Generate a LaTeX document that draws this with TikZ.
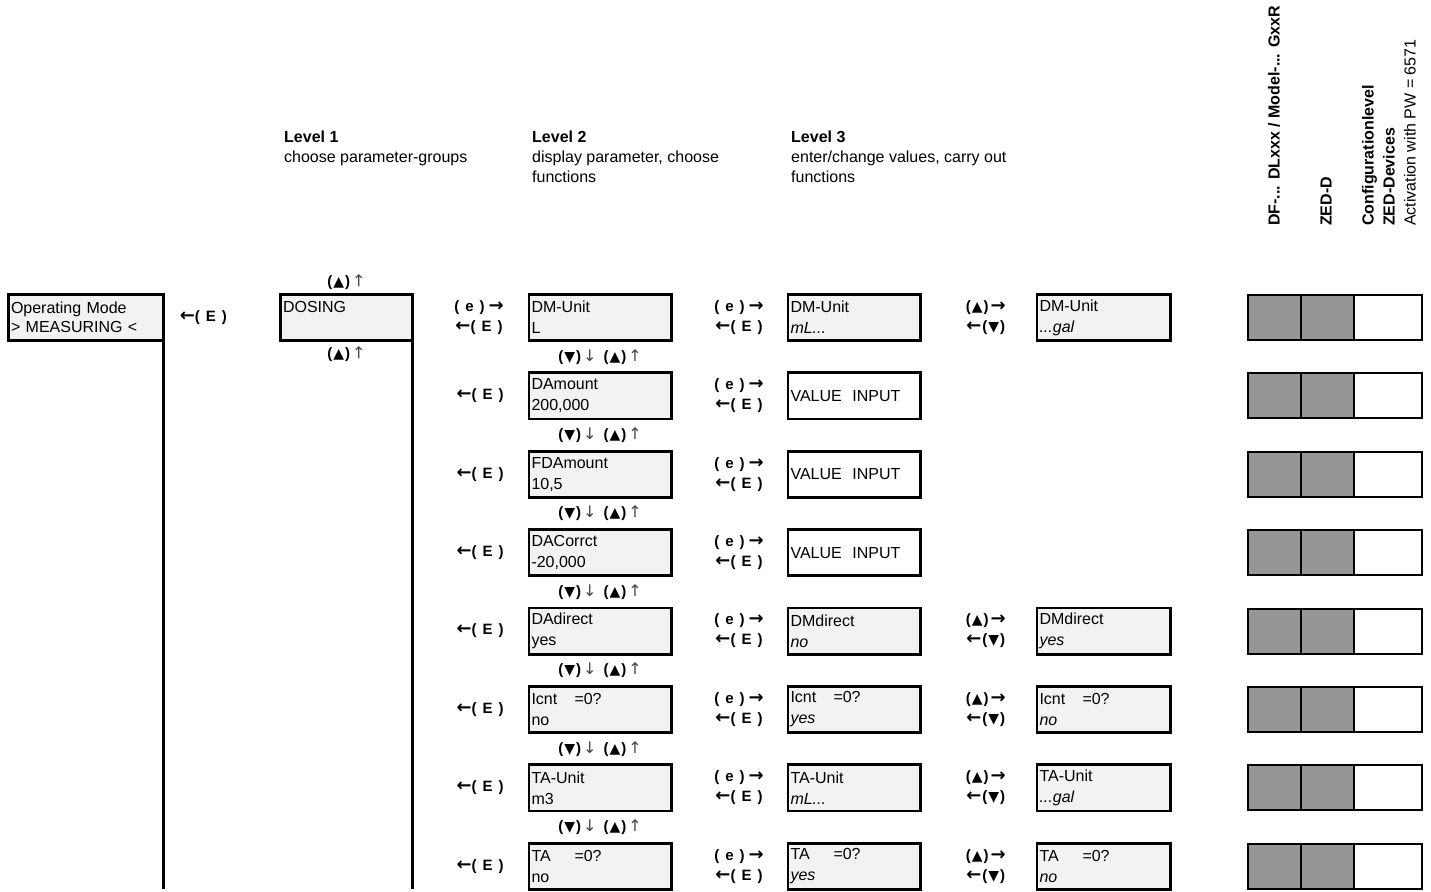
\documentclass[tikz,border=0pt]{standalone}
\usepackage{fontspec}
\setmainfont{Liberation Sans}
\newfontfamily\symfont{DejaVu Sans}
\usetikzlibrary{positioning, calc}
\definecolor{lcdgrey}{HTML}{F2F2F2}
\definecolor{flaggrey}{HTML}{969696}
\definecolor{thinarrow}{HTML}{444444}
\tikzset{
  lcdbox/.style={rectangle, draw=black, fill=lcdgrey, line width=2.8pt, outer sep=0pt,
                 minimum height=46.2pt, inner xsep=2.6pt, inner ysep=2pt,
                 align=left, font=\fontsize{16}{21}\selectfont},
  grpbox/.style={lcdbox, text width=127pt},
  partwo/.style={lcdbox, text width=137pt},
  parthree/.style={lcdbox, text width=127pt},
  parfour/.style={lcdbox, text width=128pt},
  valbox/.style={parthree, fill=white},
  frame/.style={line width=2.8pt, draw=black},
  keylab/.style={font=\fontsize{15}{20}\selectfont\bfseries, inner sep=0pt, align=center},
  headlab/.style={font=\fontsize{16}{20}\selectfont, inner sep=0pt, align=left, anchor=north west},
  sidelab/.style={font=\fontsize{16}{21}\selectfont, inner sep=0pt, align=left, rotate=90, anchor=west},
  flagbar/.style={rectangle, draw=black, line width=2pt, outer sep=0pt, inner sep=0pt,
                  minimum width=174pt, minimum height=45pt,
                  path picture={
                    \fill[flaggrey] (path picture bounding box.south west)
                      rectangle ([xshift=106pt]path picture bounding box.north west);
                    \draw[line width=2pt] ([xshift=53pt]path picture bounding box.south west)
                      -- ([xshift=53pt]path picture bounding box.north west);
                    \draw[line width=2pt] ([xshift=106pt]path picture bounding box.south west)
                      -- ([xshift=106pt]path picture bounding box.north west);
                  }},
}
\newcommand{\upkey}{(\hspace{1pt}{\symfont\fontsize{14}{14}\selectfont ▲}\hspace{1pt})}
\newcommand{\downkey}{(\hspace{1pt}{\symfont\fontsize{14}{14}\selectfont ▼}\hspace{1pt})}
\newcommand{\letterkey}[1]{(\hspace{6pt}#1\hspace{6pt})}
\newcommand{\toright}{{\symfont\bfseries\fontsize{18}{18}\selectfont →}}
\newcommand{\toleft}{{\symfont\bfseries\fontsize{18}{18}\selectfont ←}}
\newcommand{\thinup}{{\symfont\mdseries\fontsize{16}{16}\selectfont\color{thinarrow}↑}}
\newcommand{\thindown}{{\symfont\mdseries\fontsize{16}{16}\selectfont\color{thinarrow}↓}}
\newcommand{\stepkeys}{\downkey\hspace{2pt}\thindown\hspace{7pt}\upkey\hspace{2pt}\thinup}
\newcommand{\enterkeys}{\letterkey{e}\hspace{4pt}\toright\\\toleft\letterkey{E}}
\newcommand{\togglekeys}{\upkey\hspace{2pt}\toright\\\toleft\hspace{1pt}\downkey}

\begin{document}
\begin{tikzpicture}[x=1pt, y=1pt]
  \useasboundingbox (0,0) rectangle (1431,-891);

  % column headers
  \node[headlab] (lvone)   at (284,-131) {\textbf{Level 1}\\choose parameter-groups};
  \node[headlab] (lvtwo)   at (532,-131) {\textbf{Level 2}\\display parameter, choose\\functions};
  \node[headlab] (lvthree) at (791,-131) {\textbf{Level 3}\\enter/change values, carry out\\functions};
  \node[sidelab] (devdf)   at (1274,-226) {\textbf{DF-... DLxxx / Model-... GxxR}};
  \node[sidelab] (devzed)  at (1326,-226) {\textbf{ZED-D}};
  \node[sidelab] (devcfg)  at (1389,-226) {\textbf{Configurationlevel}\\\textbf{ZED-Devices}\\Activation with PW = 6571};

  % level 1
  \node[lcdbox, text width=150pt, font=\fontsize{16}{19}\selectfont] (opmode) at (86,-317.5) {Operating Mode\\> MEASURING <};
  \node[grpbox] (dosing) at (346.5,-317.5) {DOSING\\~};
  \node[keylab, right=16pt of opmode] (opkey) {\toleft\letterkey{E}};
  \node[keylab, above=5pt of dosing] (dosup) {\upkey\hspace{2pt}\thinup};
  \node[keylab, below=6pt of dosing] (dosdown) {\upkey\hspace{2pt}\thinup};
  \coordinate (opfoot) at (opmode.east |- 0,-889);
  \coordinate (dosfoot) at (dosing.east |- 0,-889);
  \draw[frame] (opmode.south east) -- (opfoot);
  \draw[frame] (dosing.south east) -- (dosfoot);

  % level 2
  \node[partwo] (dmunit) at (600,-317.5) {DM-Unit\\L};
  \node[partwo, below=32.2pt of dmunit]   (damount)  {DAmount\\200,000};
  \node[partwo, below=32.2pt of damount]  (fdamount) {FDAmount\\10,5};
  \node[partwo, below=32.2pt of fdamount] (dacorrct) {DACorrct\\-20,000};
  \node[partwo, below=32.2pt of dacorrct] (dadirect) {DAdirect\\yes};
  \node[partwo, below=32.2pt of dadirect] (icnt)     {\makebox[43pt][l]{Icnt}=0?\\no};
  \node[partwo, below=32.2pt of icnt]     (taunit)   {TA-Unit\\m3};
  \node[partwo, below=32.2pt of taunit]   (tazero)   {\makebox[43pt][l]{TA}=0?\\no};

  \node[keylab, left=25pt of dmunit]   (dmunitkey)   {\enterkeys};
  \node[keylab, left=25pt of damount]  (damountkey)  {\toleft\letterkey{E}};
  \node[keylab, left=25pt of fdamount] (fdamountkey) {\toleft\letterkey{E}};
  \node[keylab, left=25pt of dacorrct] (dacorrctkey) {\toleft\letterkey{E}};
  \node[keylab, left=25pt of dadirect] (dadirectkey) {\toleft\letterkey{E}};
  \node[keylab, left=25pt of icnt]     (icntkey)     {\toleft\letterkey{E}};
  \node[keylab, left=25pt of taunit]   (taunitkey)   {\toleft\letterkey{E}};
  \node[keylab, left=25pt of tazero]   (tazerokey)   {\toleft\letterkey{E}};

  \node[keylab] at ($(dmunit.south)!0.5!(damount.north)$)   {\stepkeys};
  \node[keylab] at ($(damount.south)!0.5!(fdamount.north)$) {\stepkeys};
  \node[keylab] at ($(fdamount.south)!0.5!(dacorrct.north)$) {\stepkeys};
  \node[keylab] at ($(dacorrct.south)!0.5!(dadirect.north)$) {\stepkeys};
  \node[keylab] at ($(dadirect.south)!0.5!(icnt.north)$)    {\stepkeys};
  \node[keylab] at ($(icnt.south)!0.5!(taunit.north)$)      {\stepkeys};
  \node[keylab] at ($(taunit.south)!0.5!(tazero.north)$)    {\stepkeys};

  % level 3
  \node[parthree, right=116.8pt of dmunit] (dmunitset)  {DM-Unit\\\textit{mL...}};
  \node[valbox,   right=116.8pt of damount]  (damountin)  {VALUE\ \ INPUT};
  \node[valbox,   right=116.8pt of fdamount] (fdamountin) {VALUE\ \ INPUT};
  \node[valbox,   right=116.8pt of dacorrct] (dacorrctin) {VALUE\ \ INPUT};
  \node[parthree, right=116.8pt of dadirect] (dmdirect)   {DMdirect\\\textit{no}};
  \node[parthree, right=116.8pt of icnt]     (icntset)    {\makebox[43pt][l]{Icnt}=0?\\\textit{yes}};
  \node[parthree, right=116.8pt of taunit]   (taunitset)  {TA-Unit\\\textit{mL...}};
  \node[parthree, right=116.8pt of tazero]   (tazeroset)  {\makebox[43pt][l]{TA}=0?\\\textit{yes}};

  \node[keylab, left=24pt of dmunitset]  {\enterkeys};
  \node[keylab, left=24pt of damountin]  {\enterkeys};
  \node[keylab, left=24pt of fdamountin] {\enterkeys};
  \node[keylab, left=24pt of dacorrctin] {\enterkeys};
  \node[keylab, left=24pt of dmdirect]   {\enterkeys};
  \node[keylab, left=24pt of icntset]    {\enterkeys};
  \node[keylab, left=24pt of taunitset]  {\enterkeys};
  \node[keylab, left=24pt of tazeroset]  {\enterkeys};

  % alternative values
  \node[parfour, right=116.8pt of dmunitset] (dmunitalt)   {DM-Unit\\\textit{...gal}};
  \node[parfour, right=116.8pt of dmdirect]  (dmdirectalt) {DMdirect\\\textit{yes}};
  \node[parfour, right=116.8pt of icntset]   (icntalt)     {\makebox[43pt][l]{Icnt}=0?\\\textit{no}};
  \node[parfour, right=116.8pt of taunitset] (taunitalt)   {TA-Unit\\\textit{...gal}};
  \node[parfour, right=116.8pt of tazeroset] (tazeroalt)   {\makebox[43pt][l]{TA}=0?\\\textit{no}};

  \node[keylab, left=31pt of dmunitalt]   {\togglekeys};
  \node[keylab, left=31pt of dmdirectalt] {\togglekeys};
  \node[keylab, left=31pt of icntalt]     {\togglekeys};
  \node[keylab, left=31pt of taunitalt]   {\togglekeys};
  \node[keylab, left=31pt of tazeroalt]   {\togglekeys};

  % device flags
  \node[flagbar] (flagdm)  at (1335,0 |- dmunit)   {};
  \node[flagbar] (flagda)  at (1335,0 |- damount)  {};
  \node[flagbar] (flagfda) at (1335,0 |- fdamount) {};
  \node[flagbar] (flagdac) at (1335,0 |- dacorrct) {};
  \node[flagbar] (flagdir) at (1335,0 |- dadirect) {};
  \node[flagbar] (flagic)  at (1335,0 |- icnt)     {};
  \node[flagbar] (flagtau) at (1335,0 |- taunit)   {};
  \node[flagbar] (flagtaz) at (1335,0 |- tazero)   {};
\end{tikzpicture}
\end{document}
